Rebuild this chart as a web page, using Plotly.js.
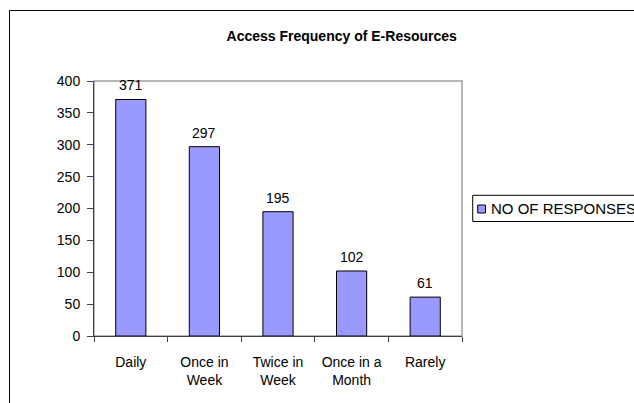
<!DOCTYPE html>
<html>
<head>
<meta charset="utf-8">
<script src="https://cdn.plot.ly/plotly-3.0.1.min.js"></script>
<style>
  html, body { margin: 0; padding: 0; background: #ffffff; }
  #chart { width: 634px; height: 403px; }
</style>
</head>
<body>
<div id="chart"></div>
<script>
// Survey: how often respondents access e-resources
const categories = ['Daily', 'Once in<br>Week', 'Twice in<br>Week', 'Once in a<br>Month', 'Rarely'];
const responses = [371, 297, 195, 102, 61];
const seriesName = 'NO OF RESPONSES';
const chartTitle = 'Access Frequency of E-Resources';
const yTicks = [0, 50, 100, 150, 200, 250, 300, 350, 400];

const FONT = 'Liberation Sans, Arial, sans-serif';
const BAR_FILL = '#9999ff';
const AXIS_COLOR = '#404040';

const trace = {
  type: 'bar',
  x: categories,
  y: responses,
  name: seriesName,
  marker: { color: BAR_FILL, line: { color: '#000000', width: 1 } },
  width: 0.41,
  hoverinfo: 'x+y'
};

// value labels sitting above each bar
const valueLabels = categories.map((c, i) => ({
  x: c, y: responses[i], xref: 'x', yref: 'y',
  text: String(responses[i]), showarrow: false,
  yanchor: 'bottom', yshift: 4,
  font: { family: FONT, size: 14, color: '#000000' }
}));

// hand-built legend entry to the right of the plot
const legendText = {
  x: 1.0734, y: 0.5, xref: 'paper', yref: 'paper',
  xanchor: 'left', yanchor: 'middle', showarrow: false,
  text: seriesName,
  font: { family: FONT, size: 15, color: '#000000' }
};

const shapes = [
  // outer chart frame
  { type: 'rect', xref: 'paper', yref: 'paper', x0: -0.2296, x1: 2, y0: -1, y1: 1.2765,
    line: { color: '#000000', width: 1 }, fillcolor: 'rgba(0,0,0,0)', layer: 'below' },
  // plot-area frame
  { type: 'rect', xref: 'paper', yref: 'paper', x0: 0, x1: 1, y0: 0, y1: 1,
    line: { color: '#a0a0a0', width: 1.5 }, fillcolor: 'rgba(0,0,0,0)', layer: 'below' },
  // legend box
  { type: 'rect', xref: 'paper', yref: 'paper', x0: 1.0291, x1: 1.8, y0: 0.4490, y1: 0.5518,
    line: { color: '#000000', width: 1 }, fillcolor: '#ffffff', layer: 'below' },
  // legend swatch
  { type: 'rect', xref: 'paper', yref: 'paper', x0: 1.0427, x1: 1.0639, y0: 0.4824, y1: 0.5137,
    line: { color: '#000000', width: 1 }, fillcolor: BAR_FILL, layer: 'above' }
];

const layout = {
  width: 634,
  height: 403,
  margin: { l: 94, r: 172, t: 81, b: 67, autoexpand: false },
  paper_bgcolor: '#ffffff',
  plot_bgcolor: '#ffffff',
  showlegend: false,
  font: { family: FONT, size: 14, color: '#000000' },
  title: {
    text: '<b>' + chartTitle + '</b>',
    xref: 'container', yref: 'container',
    x: 0.539, y: 0.9107, xanchor: 'center', yanchor: 'middle',
    font: { family: FONT, size: 14, color: '#000000' }
  },
  xaxis: {
    type: 'category',
    showline: true, linecolor: AXIS_COLOR, linewidth: 1,
    ticks: 'outside', tickson: 'boundaries', ticklen: 5, tickcolor: AXIS_COLOR, tickwidth: 1,
    showgrid: false, zeroline: false,
    tickfont: { family: FONT, size: 14, color: '#000000' },
    ticklabelstandoff: 13,
    fixedrange: true
  },
  yaxis: {
    range: [0, 400],
    tickvals: yTicks,
    showline: true, linecolor: AXIS_COLOR, linewidth: 1,
    ticks: 'outside', ticklen: 6, tickcolor: AXIS_COLOR, tickwidth: 1,
    showgrid: false, zeroline: false,
    tickfont: { family: FONT, size: 14, color: '#000000' },
    ticklabelstandoff: 4,
    fixedrange: true
  },
  annotations: valueLabels.concat([legendText]),
  shapes: shapes
};

Plotly.newPlot('chart', [trace], layout, { displayModeBar: false, staticPlot: true });
</script>
</body>
</html>
